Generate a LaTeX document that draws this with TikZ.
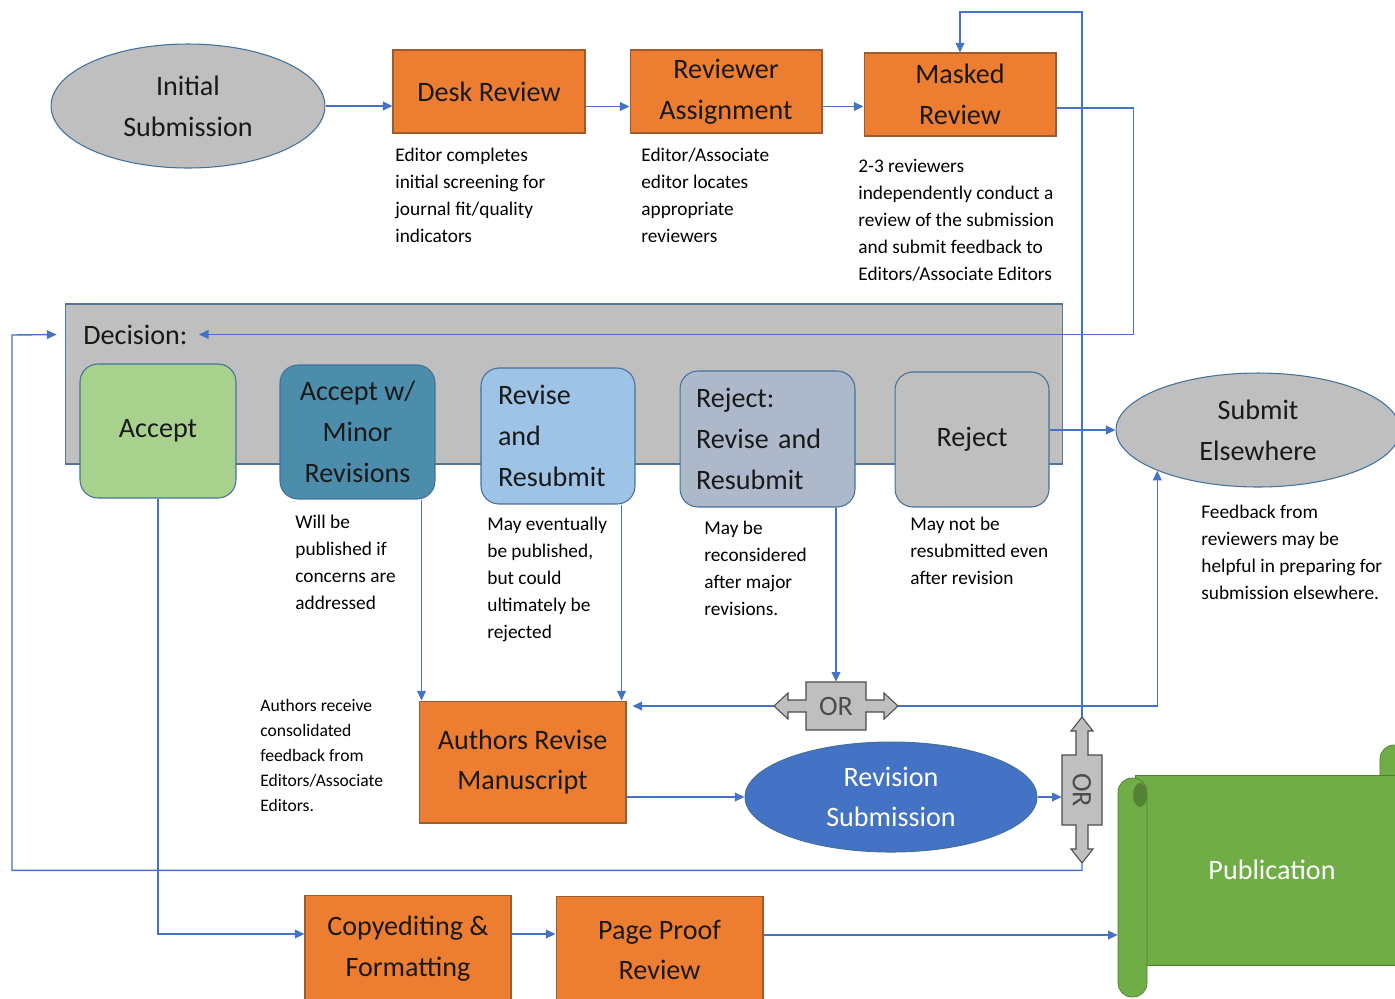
\documentclass[tikz,border=0pt]{standalone}
\usepackage{fontspec}
\setmainfont{Carlito}
\usepackage{graphicx}
\usetikzlibrary{arrows.meta}
\usetikzlibrary{shapes,positioning}
\definecolor{boxorange}{HTML}{ED7D31}
\definecolor{orangeedge}{HTML}{9E5B2E}
\definecolor{ovalgray}{HTML}{BFBFBF}
\definecolor{edgeblue}{HTML}{41719C}
\definecolor{lineblue}{HTML}{4472C4}
\definecolor{acceptgreen}{HTML}{A9D18E}
\definecolor{minorteal}{HTML}{4C8DAC}
\definecolor{reviseblue}{HTML}{9DC3E6}
\definecolor{rejectgray}{HTML}{ADB9CA}
\definecolor{subblue}{HTML}{4472C4}
\definecolor{pubgreen}{HTML}{70AD47}
\definecolor{pubdark}{HTML}{548235}
\definecolor{pubedge}{HTML}{507E32}
\tikzset{
	big/.style={font=\fontsize{16}{23.2}\selectfont, align=center, text=black!90},
	procbox/.style={big, rectangle, fill=boxorange, draw=orangeedge, line width=0.6pt, minimum width=3.84cm, minimum height=1.66cm, inner sep=0pt},
	oval/.style={big, ellipse, fill=ovalgray, draw=edgeblue, line width=0.6pt, inner sep=0pt},
	choice/.style={big, rectangle, rounded corners=0.36cm, draw=edgeblue, line width=0.6pt, minimum width=3.1cm, minimum height=2.7cm, inner sep=0pt},
	panel/.style={rectangle, fill=ovalgray, draw=edgeblue!70!gray, line width=0.6pt, minimum width=19.96cm, minimum height=3.2cm, inner sep=0pt},
	desc/.style={anchor=base west, inner sep=0pt, align=left, font=\fontsize{11}{15.3}\selectfont},
	flow/.style={draw=lineblue, line width=0.8pt, -{Triangle[length=5.5pt,width=5pt]}},
	orshape/.style={fill=ovalgray, draw=gray!60!black, line width=0.6pt},
	ortext/.style={big, text=black!70, inner sep=0pt}
}

\begin{document}
\begin{tikzpicture}[x=0.02cm,y=-0.02cm]
	\useasboundingbox (0,0) rectangle (1395,998);
	\clip (0,0) rectangle (1395,998);

	\node[oval, minimum width=5.48cm, minimum height=2.48cm] (init) at (188,106) {Initial\\Submission};
	\node[procbox] (desk) at (489,91.5) {Desk Review};
	\node[procbox] (rev) at (726,91.5) {Reviewer\\Assignment};
	\node[procbox] (mask) at (960,94.5) {Masked\\Review};
	\node[desc] (deskinfo) at (395,242) {Editor completes\\initial screening for\\journal fit/quality\\indicators};
	\node[desc] (revinfo) at (641,242) {Editor/Associate\\editor locates\\appropriate\\reviewers};
	\node[desc] (maskinfo) at (858,280) {2-3 reviewers\\independently conduct a\\review of the submission\\and submit feedback to\\Editors/Associate Editors};

	\node[panel] (panel) at (564,384) {};
	\node[big, anchor=base west, inner sep=0pt, inner xsep=0.22cm] (dectxt) at (72,344) {Decision:};
	\node[choice, fill=acceptgreen, minimum width=3.12cm, minimum height=2.68cm] (acc) at (158,431) {Accept};
	\node[choice, fill=minorteal, minimum height=2.68cm] (minor) at (357.5,432) {Accept w/\\Minor\\Revisions};
	\node[choice, fill=reviseblue, minimum width=3.08cm, minimum height=2.72cm, text width=2.4cm, align=left] (revise) at (558,436) {Revise\\and\\Resubmit};
	\node[choice, fill=rejectgray, minimum width=3.5cm, minimum height=2.72cm, text width=2.86cm, align=left] (rejrr) at (767.5,439) {Reject:\\Revise and\\Resubmit};
	\node[choice, fill=ovalgray, minimum width=3.08cm] (rej) at (972,439.5) {Reject};
	\node[oval, minimum width=5.68cm, minimum height=2.28cm] (subm) at (1258,430) {Submit\\Elsewhere};

	\node[desc] (minorinfo) at (295,609) {Will be\\published if\\concerns are\\addressed};
	\node[desc] (reviseinfo) at (487,638) {May eventually\\be published,\\but could\\ultimately be\\rejected};
	\node[desc] (rejrrinfo) at (704,615) {May be\\reconsidered\\after major\\revisions.};
	\node[desc] (rejinfo) at (910,584) {May not be\\resubmitted even\\after revision};
	\node[desc] (subminfo) at (1201,599) {Feedback from\\reviewers may be\\helpful in preparing for\\submission elsewhere.};
	\node[desc, font=\fontsize{10}{14.2}\selectfont] (authinfo) at (260,811) {Authors receive\\consolidated\\feedback from\\Editors/Associate\\Editors.};

	\node[procbox, minimum width=4.14cm, minimum height=2.44cm] (arm) at (522.5,762) {Authors Revise\\Manuscript};
	\node[oval, fill=subblue, draw=edgeblue, text=white, minimum width=5.84cm, minimum height=2.2cm] (revsub) at (891,797) {Revision\\Submission};

	\begin{scope}[shift={(836,706)}]
		\draw[orshape] (-62,0) -- (-48,-13) -- (-48,-6) -- (-30,-6) -- (-30,-24) -- (30,-24) -- (30,-6) -- (48,-6) -- (48,-13) -- (62,0) -- (48,13) -- (48,6) -- (30,6) -- (30,24) -- (-30,24) -- (-30,6) -- (-48,6) -- (-48,13) -- cycle;
	\end{scope}
	\node[ortext, minimum width=2.48cm, minimum height=0.96cm] (orh) at (836,706) {OR};
	\begin{scope}[shift={(1082,790)}]
		\draw[orshape] (0,-73) -- (11,-59) -- (6,-59) -- (6,-35) -- (20,-35) -- (20,35) -- (6,35) -- (6,59) -- (11,59) -- (0,73) -- (-11,59) -- (-6,59) -- (-6,35) -- (-20,35) -- (-20,-35) -- (-6,-35) -- (-6,-59) -- (-11,-59) -- cycle;
	\end{scope}
	\node[ortext, minimum width=0.8cm, minimum height=2.92cm] (orv) at (1082,790) {\rotatebox{-90}{OR}};

	\node[procbox, minimum width=4.12cm, minimum height=2.16cm] (copy) at (408,949) {Copyediting \&\\Formatting};
	\node[procbox, minimum width=4.14cm, minimum height=2.16cm] (pp) at (659.5,950) {Page Proof\\Review};

	\filldraw[fill=pubgreen, draw=pubedge, rounded corners=0.28cm] (1380,745) rectangle (1430,800);
	\filldraw[fill=pubgreen, draw=pubedge] (1135,775) rectangle (1410,965);
	\filldraw[fill=pubgreen, draw=pubedge, rounded corners=0.28cm] (1118,778) rectangle (1147,997);
	\fill[pubdark] (1140,795) ellipse (0.14cm and 0.24cm);
	\node[big, text=white, minimum width=6.16cm, inner sep=0pt] (pub) at (1272,870) {Publication};

	\coordinate (toploop) at (960,12);
	\draw[flow] (init.east) -- (init.east -| desk.west);
	\draw[flow] ([yshift=-0.3cm]desk.east) -- ([yshift=-0.3cm]desk.east -| rev.west);
	\draw[flow] ([yshift=-0.3cm]rev.east) -- ([yshift=-0.3cm]rev.east -| mask.west);
	\draw[flow] ([yshift=-0.27cm]mask.east) -- ++(77,0) |- (dectxt.east);
	\draw[flow] (orv.north) |- (toploop) -- (mask.north);
	\draw[flow, shorten >=0.16cm] (orv.south) -- ++(0,7) -| (12,335) -- (panel.west |- dectxt.east);
	\draw[flow] (rej.east |- subm.west) -- (subm.west);
	\draw[flow] ([xshift=-0.28cm]minor.south east) -- ([xshift=-0.28cm]minor.south east |- arm.north);
	\draw[flow] ([xshift=-0.28cm]revise.south east) -- ([xshift=-0.28cm]revise.south east |- arm.north);
	\draw[flow] (rejrr.south -| orh.north) -- (orh.north);
	\draw[flow, shorten >=0.12cm] (orh.west) -- (orh.west -| arm.east);
	\draw[flow] (orh.east) -| (subm.south west);
	\draw[flow] ([yshift=-0.7cm]arm.east) -- ([yshift=-0.7cm]arm.east -| revsub.west);
	\draw[flow] (revsub.east) -- (revsub.east -| orv.west);
	\draw[flow] (acc.south) |- ([yshift=0.3cm]copy.west);
	\draw[flow] ([yshift=0.3cm]copy.east) -- ([yshift=0.3cm]copy.east -| pp.west);
	\draw[flow] ([yshift=0.3cm]pp.east) -- ([yshift=0.3cm]pp.east -| pub.west);
\end{tikzpicture}
\end{document}
